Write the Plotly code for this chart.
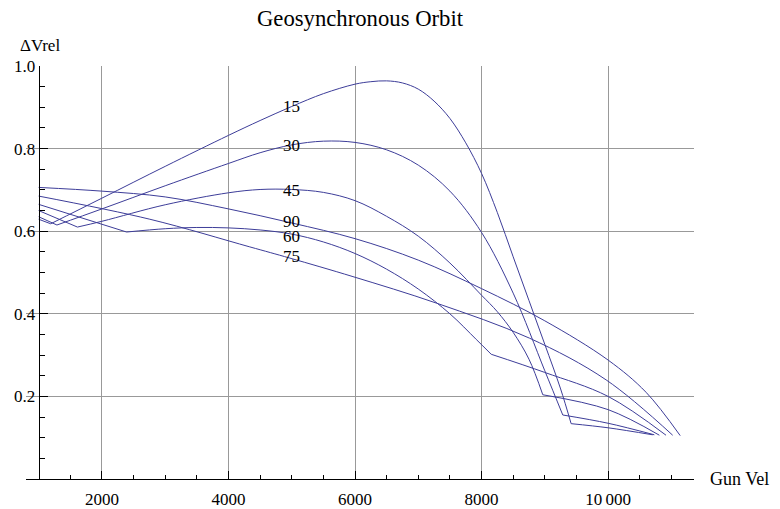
import plotly.graph_objects as go

# Launch angle (degrees) of each curve
angles = ["15", "30", "45", "60", "75", "90"]

# Gun velocity (m/s) and relative delta-V for each launch angle
gun_vel_15 = [1000, 1190, 2000, 3000, 4000, 4500, 5000, 5500, 6000, 6250, 6500, 6750, 7000, 7250, 7500, 7750, 8000, 8250, 8500, 8750, 9000, 9250, 9416, 10000, 10705]
dv_15 = [0.629, 0.618, 0.680, 0.757, 0.832, 0.868, 0.902, 0.933, 0.956, 0.962, 0.964, 0.959, 0.944, 0.915, 0.873, 0.814, 0.740, 0.645, 0.538, 0.432, 0.326, 0.218, 0.134, 0.124, 0.107]
kinks_15 = [1, 22]

gun_vel_30 = [1000, 1289, 2000, 3000, 4000, 4500, 5000, 5500, 6000, 6500, 7000, 7500, 8000, 8500, 9000, 9284, 10000, 10731]
dv_30 = [0.635, 0.615, 0.654, 0.710, 0.764, 0.790, 0.809, 0.818, 0.815, 0.797, 0.760, 0.697, 0.597, 0.450, 0.262, 0.155, 0.135, 0.107]
kinks_30 = [1, 15]

gun_vel_45 = [1000, 1613, 2000, 3000, 4000, 4500, 5000, 5500, 6000, 6500, 7000, 7500, 8000, 8250, 8500, 8750, 8968, 10000, 10811]
dv_45 = [0.650, 0.610, 0.624, 0.664, 0.693, 0.701, 0.701, 0.694, 0.674, 0.636, 0.588, 0.523, 0.445, 0.405, 0.355, 0.290, 0.204, 0.168, 0.106]
kinks_45 = [1, 16]

gun_vel_60 = [1000, 2390, 3000, 3500, 4000, 4500, 5000, 5500, 6000, 6500, 7000, 7500, 7916, 8153, 9000, 10000, 10916]
dv_60 = [0.665, 0.598, 0.606, 0.609, 0.608, 0.603, 0.593, 0.574, 0.546, 0.508, 0.460, 0.400, 0.338, 0.302, 0.258, 0.200, 0.106]
kinks_60 = [1, 13]

gun_vel_75 = [1000, 2757, 4337, 4968, 5968, 7284, 8758, 9969, 11021]
dv_75 = [0.685, 0.629, 0.562, 0.535, 0.490, 0.426, 0.341, 0.240, 0.106]
kinks_75 = []

gun_vel_90 = [1000, 2000, 3000, 4000, 5000, 6000, 7000, 8000, 9000, 10000, 10600, 11140]
dv_90 = [0.706, 0.697, 0.683, 0.654, 0.620, 0.582, 0.530, 0.461, 0.383, 0.288, 0.210, 0.105]
kinks_90 = []

# Where each angle label sits on its curve
label_vel = [5000, 5000, 5000, 5000, 5000, 5000]
label_dv = [0.902, 0.808, 0.698, 0.588, 0.538, 0.623]

x_major = [2000, 4000, 6000, 8000, 10000]
x_major_text = ["2000", "4000", "6000", "8000", "10\u2009000"]
y_major = [0.2, 0.4, 0.6, 0.8, 1.0]
y_major_text = ["0.2", "0.4", "0.6", "0.8", "1.0"]

X_RANGE = [800, 11358]
Y_RANGE = [0, 1.0]
LINE_COLOR = "#3d3d99"
GRID_COLOR = "#999999"
FONT = "Liberation Serif, Times New Roman, DejaVu Serif, serif"

curves = [
    (gun_vel_15, dv_15, kinks_15),
    (gun_vel_30, dv_30, kinks_30),
    (gun_vel_45, dv_45, kinks_45),
    (gun_vel_60, dv_60, kinks_60),
    (gun_vel_75, dv_75, kinks_75),
    (gun_vel_90, dv_90, kinks_90),
]

fig = go.Figure()

# Each curve is smooth between its corner points, so draw it piecewise
for name, (xs, ys, kinks) in zip(angles, curves):
    bounds = [0] + kinks + [len(xs) - 1]
    for a, b in zip(bounds[:-1], bounds[1:]):
        fig.add_trace(go.Scatter(
            x=xs[a:b + 1], y=ys[a:b + 1], mode="lines",
            line=dict(color=LINE_COLOR, width=1, shape="spline", smoothing=1),
            name=name, showlegend=False, hoverinfo="skip",
        ))

for name, lx, ly in zip(angles, label_vel, label_dv):
    fig.add_annotation(x=lx, y=ly, text=name, showarrow=False,
                       xanchor="center", yanchor="middle",
                       font=dict(family=FONT, size=17, color="black"))

# Axis labels
fig.add_annotation(xref="paper", yref="paper", x=(18 - 26) / 668.3, y=(479.3 - 45) / 413.6,
                   text="\u0394Vrel", showarrow=False, xanchor="left", yanchor="middle",
                   font=dict(family=FONT, size=17, color="black"))
fig.add_annotation(xref="paper", yref="paper", x=(708 - 26) / 668.3, y=0,
                   text="Gun Vel", showarrow=False, xanchor="left", yanchor="middle",
                   font=dict(family=FONT, size=18, color="black"))

y_axis_pos = (1000 - X_RANGE[0]) / (X_RANGE[1] - X_RANGE[0])

fig.update_layout(
    width=780, height=509,
    margin=dict(l=26, r=85.7, t=65.7, b=29.7, autoexpand=False),
    paper_bgcolor="white", plot_bgcolor="white",
    title=dict(text="Geosynchronous Orbit", x=0.5, xref="paper", y=1 - 18 / 509,
               yref="container", xanchor="center", yanchor="middle",
               font=dict(family=FONT, size=22.7, color="black")),
    xaxis=dict(
        range=X_RANGE, tickmode="array", tickvals=x_major, ticktext=x_major_text,
        automargin=False,
        showgrid=True, gridcolor=GRID_COLOR, gridwidth=1, zeroline=False,
        showline=True, linecolor="black", linewidth=1,
        ticks="inside", ticklen=8, tickcolor="black", tickwidth=1,
        ticklabelstandoff=5,
        tickfont=dict(family=FONT, size=17, color="black"),
        minor=dict(tickmode="array", tickvals=[v for v in range(1500, 11001, 500) if v % 2000],
                   ticks="inside", ticklen=4, tickcolor="black", showgrid=False),
    ),
    yaxis=dict(
        range=Y_RANGE, anchor="free", position=y_axis_pos,
        automargin=False,
        tickmode="array", tickvals=y_major, ticktext=y_major_text,
        showgrid=True, gridcolor=GRID_COLOR, gridwidth=1, zeroline=False,
        showline=True, linecolor="black", linewidth=1,
        ticks="inside", ticklen=8, tickcolor="black", tickwidth=1,
        tickfont=dict(family=FONT, size=17, color="black"),
        minor=dict(tickmode="array", tickvals=[round(0.05 * k, 2) for k in range(1, 20) if k % 4],
                   ticks="inside", ticklen=5, tickcolor="black", showgrid=False),
    ),
)

fig.write_html("out.html")
